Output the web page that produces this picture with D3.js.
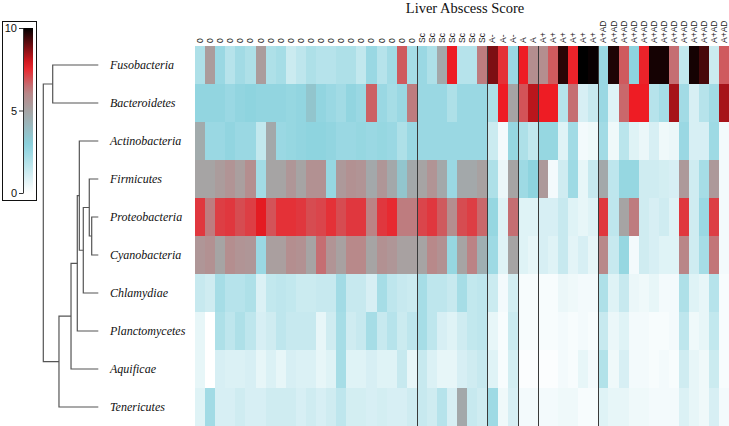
<!DOCTYPE html>
<html><head><meta charset="utf-8">
<script src="https://cdn.jsdelivr.net/npm/d3@7"></script>
<style>body{margin:0;background:#fff}svg{display:block}</style>
</head><body>
<svg id="chart" width="729" height="426"></svg>
<script>
// ---------- data ----------
const phyla = ["Fusobacteria","Bacteroidetes","Actinobacteria","Firmicutes","Proteobacteria",
  "Cyanobacteria","Chlamydiae","Planctomycetes","Aquificae","Tenericutes"];
const scoreGroups = ["0","Sc","A-","A","A+","A+AD"];
const groupSizes = [22,7,3,2,6,13];
const legendTicks = [0,5,10];
const chartTitle = "Liver Abscess Score";

const fusobacteria = [2,5.3,2.5,1.8,2.3,2,5.3,2,2.2,1.3,1.6,2,1.8,1.8,2,2,1.5,2.5,1.8,2.3,6.8,2.2,
  2.5,2,4.8,7.7,1.8,1.8,6.3, 8.8,7.4,2.5, 7.7,5.8, 5.8,6.8,9.6,7.6,10,9.9,
  2.5,9.7,6.8,2.8,7.6,9.8,9.8,6.5,1.5,9.8,9.3,1.3,6.8];
const bacteroidetes = [2.7,2.7,2.7,2.5,2.7,2.8,2.7,2.7,2.7,2.6,2.7,3.5,2.7,2.5,2.3,2.7,2.5,6.7,2.5,2.2,2.5,6.3,
  2.5,2.5,2.5,2.0,2.5,2.5,2.5, 2.0,7.7,5.0, 6.9,8.2, 7.7,7.7,1.8,6.5,1.0,1.4,
  2.5,0.8,6.6,7.7,7.7,1.8,2.2,8.4,2.3,1.0,1.8,2.3,8.4];
const actinobacteria = [4.7,2.5,2.5,2.7,2.5,2.5,1.5,4.8,2.5,2.6,2.7,2.8,2.8,2.7,2.5,2.5,2.6,2.5,2.6,2.5,2.0,2.5,
  2.5,2.5,2.5,2.5,2.5,2.5,2.5, 1.3,0.3,2.6, 2.0,1.5, 2.6,2.6,0.8,2.3,0.3,0.4,
  2.3,0.4,1.7,0.8,0.5,1.0,0.4,0.5,2.5,1.0,1.0,2.4,0.3];
const firmicutes = [5,5,5.3,5.6,5.2,5.8,2.3,5.0,5.0,5.5,5.0,5.7,5.7,2.6,5.4,5.7,5.6,4.8,5.5,4.8,3.5,4.8,
  5.0,5.6,4.8,2.5,4.8,4.8,5.1, 2.0,0.5,5.0, 2.4,2.8, 5.4,0.3,1.2,2.4,0.6,1.4,
  4.8,1.6,2.6,2.6,1.2,1.2,1.1,1.0,5.4,1.2,2.2,5.4,0.3];
const proteobacteria = [7.3,6.3,7.2,7.3,7.0,7.2,7.8,6.9,7.4,7.4,7.3,7.0,7.1,7.4,7.0,7.3,7.3,6.2,7.3,7.5,6.3,6.3,
  7.1,7.3,6.8,5.8,7.0,7.2,6.6, 2.6,0.8,6.5, 0.8,0.8, 1.0,1.0,1.4,0.8,0.6,0.8,
  7.3,1.6,5.0,6.3,1.2,1.0,1.2,0.8,7.3,1.2,2.5,7.2,0.3];
const cyanobacteria = [5.5,5.7,5.0,5.8,5.6,5.5,2.5,5.2,5.2,5.8,5.7,5.0,6.5,5.6,5.1,6.0,6.0,5.0,5.7,5.5,5.1,5.1,
  5.0,6.0,5.7,2.6,5.0,6.2,4.5, 2.4,0.8,5.0, 0.8,0.6, 1.0,0.8,1.4,0.7,1.0,0.6,
  6.0,1.4,2.6,0.3,1.2,1.0,0.8,0.8,6.1,1.2,2.2,6.4,0.3];
const chlamydiae = [1.4,1.2,2.2,1.8,1.8,2.0,0.9,1.5,1.6,1.5,1.3,1.3,1.4,1.4,2.3,1.4,1.4,1.0,2.2,1.6,1.4,1.3,
  2.2,1.6,1.6,1.4,2.2,1.5,1.6, 1.3,0.3,1.1, 0.2,0.2, 0.2,0.2,0.5,0.4,0.3,0.3,
  2.0,0.8,1.4,0.5,0.4,0.6,0.3,0.3,2.0,0.8,0.6,1.8,0.2];
const planctomycetes = [0.6,0.0,2.0,1.6,2.0,1.6,1.0,1.2,1.6,1.4,1.4,1.4,0.6,1.2,2.2,1.2,1.4,2.2,1.4,1.8,1.3,1.6,
  2.2,1.6,1.0,0.8,1.2,1.5,1.6, 0.6,0.2,1.3, 0.2,0.2, 0.2,0.2,0.3,0.2,0.3,0.2,
  1.4,0.5,0.8,0.3,0.3,0.2,0.2,0.3,1.6,0.4,0.6,1.5,0.2];
const aquificae = [0.6,0.0,1.0,0.9,0.9,1.0,0.6,0.9,0.6,1.0,0.9,0.9,0.6,0.8,2.2,0.8,0.8,1.0,0.8,0.8,1.4,0.6,
  1.4,0.9,0.6,0.6,1.0,1.2,1.4, 0.8,0.2,1.1, 0.1,0.1, 0.1,0.1,0.3,0.2,0.6,0.3,
  1.9,0.4,1.0,0.3,0.3,0.2,0.3,0.2,1.2,0.6,0.4,1.3,0.2];
const tenericutes = [0.8,2.3,1.0,1.0,1.2,1.0,1.0,1.2,1.2,1.2,1.0,1.2,1.0,1.2,1.6,1.1,1.1,1.0,1.1,1.0,1.0,1.2,
  1.4,1.2,1.8,1.0,4.8,1.4,1.2, 2.4,0.4,1.0, 0.3,0.3, 0.3,0.3,0.4,0.4,0.2,0.2,
  0.8,0.6,0.6,0.4,0.4,0.3,0.3,0.3,0.9,0.6,0.4,1.0,0.3];

const rowValues = [fusobacteria,bacteroidetes,actinobacteria,firmicutes,proteobacteria,
  cyanobacteria,chlamydiae,planctomycetes,aquificae,tenericutes];

// dendrogram merges: [left, right, height]; "mN" refers to merge N
const dendroMerges = [
  ["Proteobacteria","Cyanobacteria",0.12],
  ["Firmicutes","m0",0.164],
  ["m1","Chlamydiae",0.273],
  ["Actinobacteria","m2",0.345],
  ["m3","Planctomycetes",0.382],
  ["m4","Aquificae",0.496],
  ["m5","Tenericutes",0.715],
  ["Fusobacteria","Bacteroidetes",0.829],
  ["m7","m6",1.0]
];

// ---------- drawing ----------
const svg = d3.select("#chart");
const colLabels = scoreGroups.flatMap((g,i)=>Array(groupSizes[i]).fill(g));
const nCols = colLabels.length;

const color = d3.scaleLinear()
  .domain([0,2.9,5,6.2,7.7,10])
  .range(["#ffffff","#8ad2de","#a6a4a4","#bb8385","#ee1c24","#000000"])
  .clamp(true);

const x = d3.scaleBand().domain(d3.range(nCols)).range([195,729.5]);
const y = d3.scaleBand().domain(phyla).range([46,426]);

// cells
const cells = [];
phyla.forEach((p,r)=>rowValues[r].forEach((v,c)=>cells.push({p,c,v})));
svg.append("g").selectAll("rect").data(cells).join("rect")
  .attr("x",d=>x(d.c)).attr("y",d=>y(d.p))
  .attr("width",x.bandwidth()+0.6).attr("height",y.bandwidth()+0.6)
  .attr("fill",d=>color(d.v))
  .attr("shape-rendering","crispEdges");

// group separators
let acc = 0;
const seps = [];
groupSizes.forEach((s,i)=>{ if(i>0) seps.push(acc); acc += s; });
svg.append("g").selectAll("line").data(seps).join("line")
  .attr("x1",d=>Math.round(x(d))+0.5).attr("x2",d=>Math.round(x(d))+0.5)
  .attr("y1",46).attr("y2",426)
  .attr("stroke","#3a3a3a").attr("stroke-width",1);

// column labels
svg.append("g").selectAll("text").data(colLabels).join("text")
  .attr("transform",(d,i)=>`translate(${x(i)+x.bandwidth()/2},43) rotate(-90)`)
  .attr("dy","0.35em")
  .attr("text-anchor","start")
  .attr("font-family","Liberation Sans, Arial, sans-serif")
  .attr("font-size","8.5px")
  .attr("fill","#222")
  .text(d=>d);

// title
svg.append("text").attr("x",465).attr("y",12.5)
  .attr("text-anchor","middle")
  .attr("font-family","Liberation Serif, Times New Roman, serif")
  .attr("font-size","14.5px").attr("fill","#111")
  .text(chartTitle);

// row labels
svg.append("g").selectAll("text").data(phyla).join("text")
  .attr("x",110).attr("y",d=>y(d)+y.bandwidth()/2)
  .attr("dy","0.35em")
  .attr("font-family","Liberation Serif, Times New Roman, serif")
  .attr("font-style","italic").attr("font-size","12px").attr("fill","#111")
  .text(d=>d);

// dendrogram
const xD = d3.scaleLinear().domain([0,1]).range([98.3,43.3]);
const nodes = {};
phyla.forEach(p=>nodes[p]={x:xD(0),y:y(p)+y.bandwidth()/2});
const links = [];
dendroMerges.forEach((m,i)=>{
  const a = nodes[m[0]], b = nodes[m[1]];
  const n = {x:xD(m[2]), y:(a.y+b.y)/2};
  nodes["m"+i] = n;
  links.push(`M${a.x},${a.y}H${n.x}V${b.y}H${b.x}`);
});
svg.append("g").selectAll("path").data(links).join("path")
  .attr("d",d=>d).attr("fill","none")
  .attr("stroke","#555").attr("stroke-width",1.2);

// legend
const defs = svg.append("defs");
const grad = defs.append("linearGradient").attr("id","lg")
  .attr("x1","0").attr("y1","1").attr("x2","0").attr("y2","0");
d3.range(0,10.01,0.5).forEach(v=>grad.append("stop")
  .attr("offset",v/10).attr("stop-color",color(v)));
svg.append("rect").attr("x",2.5).attr("y",21.5).attr("width",34).attr("height",179)
  .attr("fill","none").attr("stroke","#111").attr("stroke-width",1);
const yL = d3.scaleLinear().domain([0,10]).range([193,28]);
svg.append("rect").attr("x",23).attr("y",28).attr("width",10).attr("height",165)
  .attr("fill","url(#lg)");
const ax = svg.append("g").attr("transform","translate(23,0)")
  .call(d3.axisLeft(yL).tickValues(legendTicks).tickSize(4).tickSizeOuter(0).tickPadding(2));
ax.selectAll("text").attr("font-family","Liberation Sans, Arial, sans-serif")
  .attr("font-size","11px").attr("fill","#111");
ax.selectAll("line,path").attr("stroke","#333");
</script>
</body></html>
